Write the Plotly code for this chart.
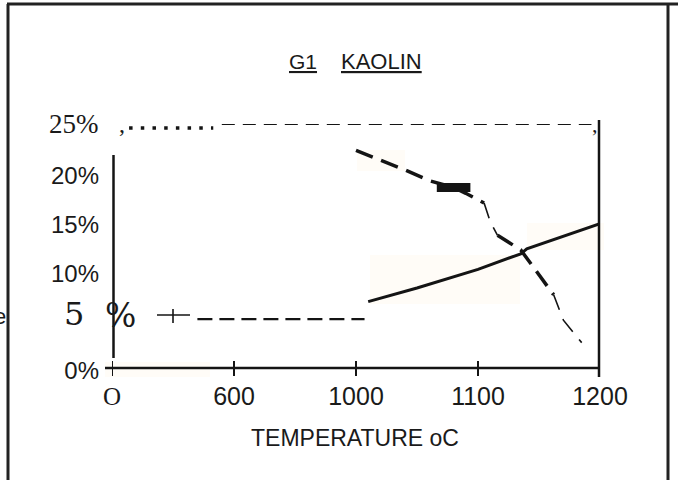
import numpy as np
import plotly.graph_objects as go

# ---- axis categories (drawn equally spaced) ----
temp_ticks = [0, 600, 1000, 1100, 1200]
temp_labels = ["<span style=\"font-family:Liberation Serif\">O</span>", "600", "1000", "1100", "1200"]
pct_ticks = [0, 10, 15, 20, 25]
pct_labels = ["0%", "10%", "15%", "20%", ""]
top_pct_label = "25%"

# ---- rising curve (solid) ----
solid_temp = [1010, 1050, 1100, 1135, 1140, 1170, 1190, 1200]
solid_pct = [6.8, 8.2, 10.1, 11.7, 12.2, 13.5, 14.4, 14.8]

# ---- falling curve (dashed) ----
dashed_temp = [1000, 1020, 1040, 1060, 1080, 1090, 1105, 1110, 1116, 1135, 1162, 1170, 1185]
dashed_pct = [22.3, 21.3, 20.3, 19.2, 18.5, 17.9, 16.9, 15.0, 13.6, 12.1, 7.5, 4.9, 2.6]
# stroke weight of each dashed piece (heavy / light pen)
dashed_weight = [3.5, 3.5, 3.5, 3.5, 3.5, 3.5, 1.6, 1.6, 3.5, 3.5, 1.6, 1.6]

# heavy mark on the dashed curve
blot_temp = [1080]
blot_pct = [18.5]

tick_pos = list(range(len(temp_ticks)))


def to_pos(t):
    return np.interp(t, temp_ticks, tick_pos)


# page geometry (pixels)
W, H = 678, 480
L, R, T, B = 112, 600, 124, 368


def px(x):
    return (x - L) / (R - L)


def py(y):
    return (B - y) / (B - T)


INK = "#141414"
fig = go.Figure()

# solid curve
fig.add_trace(go.Scatter(x=to_pos(solid_temp), y=solid_pct, mode="lines",
                         line=dict(color=INK, width=3), hoverinfo="skip"))

# dashed curve, piece by piece with its pen weight
xd = to_pos(dashed_temp)
start = 0
for i in range(1, len(dashed_weight) + 1):
    if i == len(dashed_weight) or dashed_weight[i] != dashed_weight[start]:
        w = dashed_weight[start]
        fig.add_trace(go.Scatter(
            x=xd[start:i + 1], y=dashed_pct[start:i + 1], mode="lines",
            line=dict(color=INK, width=w, dash="18px,9px" if w > 2 else "16px,10px"),
            hoverinfo="skip"))
        start = i

fig.add_trace(go.Scatter(x=to_pos(blot_temp), y=blot_pct, mode="markers",
                         marker=dict(symbol="line-ew", size=24,
                                     line=dict(color=INK, width=9)),
                         hoverinfo="skip"))

shapes = []
# faint paper tint behind parts of the drawing
for x0, y0, x1, y1 in [(357, 150, 405, 171), (370, 255, 520, 304),
                       (527, 223, 604, 250), (105, 362, 210, 377)]:
    shapes.append(dict(type="rect", xref="paper", yref="paper", layer="below",
                       x0=px(x0), x1=px(x1), y0=py(y1), y1=py(y0),
                       fillcolor="#fffcf7", line=dict(width=0)))

def seg(x0, y0, x1, y1, w=2.5, dash="solid", color=INK):
    shapes.append(dict(type="line", xref="paper", yref="paper",
                       x0=px(x0), y0=py(y0), x1=px(x1), y1=py(y1),
                       line=dict(color=color, width=w, dash=dash)))

# outer frame
seg(7, 4, 678, 4, 3, color="#222")
seg(8, 4, 8, 480, 3, color="#222")
seg(668, 4, 668, 480, 3, color="#222")
# axis lines
seg(113.5, 155, 113.5, 358, 2.5)
seg(599, 120, 599, 377, 2.5)
seg(105, 368, 600, 368, 2.5)
# tick crosses on the temperature axis
for p in tick_pos:
    shapes.append(dict(type="line", xref="x", yref="paper", x0=p, x1=p,
                       y0=py(376), y1=py(361), line=dict(color=INK, width=2)))

# 25% guide: dotted then dashed
shapes.append(dict(type="line", xref="x", yref="y", x0=0.14, x1=0.83, y0=24.6, y1=24.6,
                   line=dict(color=INK, width=3.5, dash="3.5px,8.2px")))
shapes.append(dict(type="line", xref="x", yref="y", x0=0.9, x1=3.93, y0=25, y1=25,
                   line=dict(color=INK, width=2.2, dash="13px,8px")))
# 5% guide: plus sign then dashes
seg(157, 315, 190, 315, 1.6)
seg(173, 309, 173, 323, 1.6)
shapes.append(dict(type="line", xref="x", yref="y", x0=0.70, x1=2.07, y0=5, y1=5,
                   line=dict(color=INK, width=2.2, dash="15px,7px")))

annotations = []

def label(text, x, y, size, family="Liberation Sans", anchor="center", under=False):
    f = dict(family=family, size=size, color="#1a1a1a")
    if under:
        f["lineposition"] = "under"
    annotations.append(dict(text=text, xref="paper", yref="paper", x=px(x), y=py(y),
                            xanchor=anchor, yanchor="middle", showarrow=False, font=f))

label("G1", 303, 61, 21, under=True)
label("KAOLIN", 381, 61, 22, under=True)
label("TEMPERATURE oC", 355, 438, 23, family="Liberation Sans Narrow, Liberation Sans")
label("5", 74, 314, 32, family="DejaVu Serif")
label("%", 120, 315, 33, family="DejaVu Serif")
label(",", 122, 124, 24, family="Liberation Serif")
label(",", 595, 124, 22, family="Liberation Serif")
label("e", 0, 316, 22)
# top percentage label, set in a serif face at the 25% level
annotations.append(dict(text=top_pct_label, xref="paper", yref="y", x=px(101), y=pct_ticks[-1],
                        xanchor="right", yanchor="middle", showarrow=False,
                        font=dict(family="Liberation Serif", size=27, color="#1a1a1a")))

fig.update_layout(
    width=W, height=H,
    margin=dict(l=L, r=W - R, t=T, b=H - B, pad=0),
    paper_bgcolor="white", plot_bgcolor="rgba(0,0,0,0)",
    showlegend=False,
    shapes=shapes, annotations=annotations,
    xaxis=dict(range=[0, 4], tickvals=tick_pos, ticktext=temp_labels,
               showgrid=False, zeroline=False, showline=False, ticks="",
               ticklabelstandoff=11,
               tickfont=dict(family="Liberation Sans Narrow, Liberation Sans", size=25, color="#1a1a1a")),
    yaxis=dict(range=[0, 25], tickvals=pct_ticks, ticktext=pct_labels,
               showgrid=False, zeroline=False, showline=False, ticks="",
               ticklabelstandoff=12, ticklabelshift=3,
               tickfont=dict(family="Liberation Sans", size=24, color="#1a1a1a")),
)

fig.write_html("out.html")
